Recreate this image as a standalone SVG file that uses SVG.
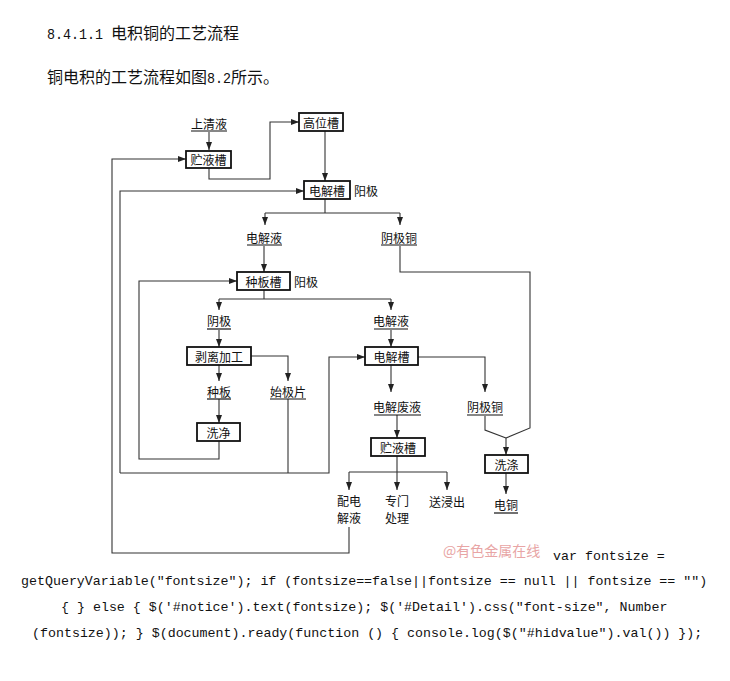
<svg xmlns="http://www.w3.org/2000/svg" width="730" height="681" viewBox="0 0 730 681">
<style>
.box{fill:#fff;stroke:#111;stroke-width:1.8}
.ln{fill:none;stroke:#333;stroke-width:1.1}
.arr{marker-end:url(#ah)}
.t{font-family:"Noto Sans CJK SC","Noto Sans",sans-serif;font-size:12px;fill:#111;text-anchor:middle;dominant-baseline:central}
.ta{font-family:"Noto Sans CJK SC","Noto Sans",sans-serif;font-size:12px;fill:#111;dominant-baseline:central}
.ul{stroke:#111;stroke-width:1.2}
.head{font-family:"Noto Sans CJK SC",sans-serif;font-size:16px;fill:#111}
.mono{font-family:"Liberation Mono",monospace;font-size:14.5px}
.code{font-family:"Liberation Mono",monospace;font-size:13.3px;fill:#111}
</style>
<defs>
<marker id="ah" markerWidth="8" markerHeight="6" refX="8" refY="3" orient="auto" markerUnits="userSpaceOnUse">
<path d="M0,0 L8,3 L0,6 z" fill="#222"/>
</marker>
</defs>
<rect width="730" height="681" fill="#fff"/>

<text class="head" x="47" y="39"><tspan class="mono" textLength="56" lengthAdjust="spacingAndGlyphs">8.4.1.1</tspan><tspan x="111">电积铜的工艺流程</tspan></text>
<text class="head" x="47" y="83">铜电积的工艺流程如图<tspan class="mono" textLength="24" lengthAdjust="spacingAndGlyphs">8.2</tspan>所示。</text>

<g id="connectors">
<path class="ln arr" d="M209,132 V150"/>
<path class="ln arr" d="M209,168 V179 H270 V122 H299"/>
<path class="ln arr" d="M325,131 V181"/>
<path class="ln" d="M325,199 V213 M265,213 H400"/>
<path class="ln arr" d="M265,213 V225"/>
<path class="ln arr" d="M400,213 V225"/>
<path class="ln arr" d="M264,246 V272"/>
<path class="ln" d="M400,246 V272 H530 V428 L506,438"/>
<path class="ln" d="M264,290 V299 M219,299 H391"/>
<path class="ln arr" d="M219,299 V310"/>
<path class="ln arr" d="M391,299 V310"/>
<path class="ln arr" d="M219,330 V347"/>
<path class="ln arr" d="M391,330 V347"/>
<path class="ln arr" d="M219,365 V381"/>
<path class="ln arr" d="M251,356 H288 V381"/>
<path class="ln arr" d="M219,399 V423"/>
<path class="ln arr" d="M219,441 V459 H139 V281 H237"/>
<path class="ln" d="M288,399 V473"/>
<path class="ln arr" d="M120,473 H329 V357 H365"/>
<path class="ln arr" d="M120,473 V191 H304"/>
<path class="ln arr" d="M418,357 H485 V392"/>
<path class="ln arr" d="M391,365 V392"/>
<path class="ln arr" d="M397,415 V438"/>
<path class="ln" d="M397,456 V472 M349,472 H447"/>
<path class="ln arr" d="M349,472 V490"/>
<path class="ln arr" d="M397,472 V490"/>
<path class="ln arr" d="M447,472 V490"/>
<path class="ln" d="M485,416 V430 L506,438"/>
<path class="ln arr" d="M506,438 V455"/>
<path class="ln arr" d="M506,473 V494"/>
<path class="ln arr" d="M349,527 V553 H112 V159 H186"/>
</g>

<g id="n_shangqingye"><text class="t" x="209" y="123">上清液</text><line class="ul" x1="191" y1="131" x2="227" y2="131"/></g>
<g id="n_zhuyecao1"><rect class="box" x="186" y="151" width="45" height="17"/><text class="t" x="208.5" y="159.5">贮液槽</text></g>
<g id="n_gaoweicao"><rect class="box" x="299" y="113" width="44" height="18"/><text class="t" x="321" y="122">高位槽</text></g>
<g id="n_dianjiecao1"><rect class="box" x="304" y="181" width="46" height="18"/><text class="t" x="327" y="190">电解槽</text><text class="ta" x="354" y="190">阳极</text></g>
<g id="n_dianjieye1"><text class="t" x="264" y="237">电解液</text><line class="ul" x1="247" y1="245" x2="282" y2="245"/></g>
<g id="n_yinjitong1"><text class="t" x="399" y="237">阴极铜</text><line class="ul" x1="381" y1="245" x2="417" y2="245"/></g>
<g id="n_zhongbancao"><rect class="box" x="237" y="272" width="53" height="18"/><text class="t" x="263.5" y="281">种板槽</text><text class="ta" x="294" y="281">阳极</text></g>
<g id="n_yinji"><text class="t" x="219" y="320">阴极</text><line class="ul" x1="207" y1="329" x2="231" y2="329"/></g>
<g id="n_dianjieye2"><text class="t" x="391" y="320">电解液</text><line class="ul" x1="374" y1="329" x2="408" y2="329"/></g>
<g id="n_boli"><rect class="box" x="187" y="347" width="64" height="18"/><text class="t" x="219" y="356">剥离加工</text></g>
<g id="n_dianjiecao2"><rect class="box" x="365" y="347" width="53" height="18"/><text class="t" x="391.5" y="356">电解槽</text></g>
<g id="n_zhongban"><text class="t" x="219" y="391">种板</text><line class="ul" x1="207" y1="399" x2="231" y2="399"/></g>
<g id="n_shijipian"><text class="t" x="288" y="391">始极片</text><line class="ul" x1="270" y1="399" x2="306" y2="399"/></g>
<g id="n_xijing"><rect class="box" x="197" y="423" width="43" height="18"/><text class="t" x="218.5" y="432">洗净</text></g>
<g id="n_dianjiefeiye"><text class="t" x="397" y="406">电解废液</text><line class="ul" x1="374" y1="415" x2="421" y2="415"/></g>
<g id="n_yinjitong2"><text class="t" x="485" y="406">阴极铜</text><line class="ul" x1="467" y1="415" x2="503" y2="415"/></g>
<g id="n_zhuyecao2"><rect class="box" x="371" y="438" width="54" height="18"/><text class="t" x="398" y="447">贮液槽</text></g>
<g id="n_xidi"><rect class="box" x="485" y="455" width="43" height="18"/><text class="t" x="506.5" y="464">洗涤</text></g>
<g id="n_peidianjieye"><text class="t" x="349" y="500">配电</text><text class="t" x="349" y="517">解液</text></g>
<g id="n_zhuanmen"><text class="t" x="397" y="500">专门</text><text class="t" x="397" y="517">处理</text></g>
<g id="n_songjinchu"><text class="t" x="447" y="501">送浸出</text></g>
<g id="n_diantong"><text class="t" x="506" y="504">电铜</text><line class="ul" x1="494" y1="513" x2="518" y2="513"/></g>

<text x="443" y="556" font-family="Noto Sans CJK SC,sans-serif" font-size="14" fill="#e8a5a5">@有色金属在线</text>
<text class="code" x="553" y="560">var fontsize =</text>
<text class="code" x="21" y="585">getQueryVariable("fontsize"); if (fontsize==false||fontsize == null || fontsize == "")</text>
<text class="code" x="61" y="611">{ } else { $('#notice').text(fontsize); $('#Detail').css("font-size", Number</text>
<text class="code" x="32" y="637">(fontsize)); } $(document).ready(function () { console.log($("#hidvalue").val()) });</text>
</svg>
